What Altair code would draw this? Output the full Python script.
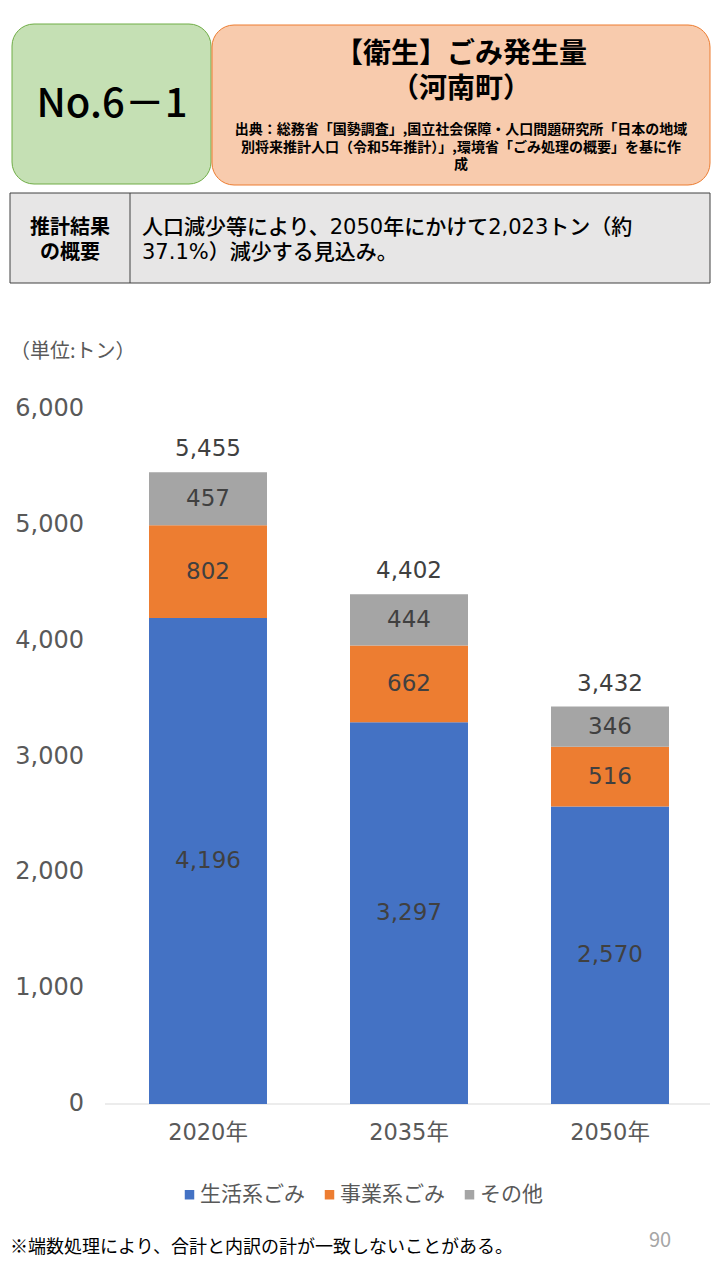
import altair as alt
import pandas as pd

# ---------------- data ----------------
years = ["2020年", "2035年", "2050年"]
categories = ["生活系ごみ", "事業系ごみ", "その他"]
household = [4196, 3297, 2570]
business = [802, 662, 516]
other = [457, 444, 346]
totals = [5455, 4402, 3432]
y_ticks = [0, 1000, 2000, 3000, 4000, 5000, 6000]
colors = ["#4472C4", "#ED7D31", "#A5A5A5"]

rows = []
for i, yr in enumerate(years):
    for j, (c, vals) in enumerate(zip(categories, [household, business, other])):
        rows.append({"year": yr, "cat": c, "value": vals[i], "order": j})
df = pd.DataFrame(rows)
tot_df = pd.DataFrame({"year": years, "total": totals})
tick_df = pd.DataFrame({"tick": y_ticks})
one = pd.DataFrame({"a": [0]})

# ---------------- layout ----------------
FONT = "Noto Sans CJK JP"
NUMFONT = "DejaVu Sans, Noto Sans CJK JP"
W, H = 704, 1264
BASE = 1096.0      # pixel row of value 0
PX = 0.1158        # pixels per ton
ydom = [(BASE - H) / PX, BASE / PX]
yscale = alt.Scale(domain=ydom, nice=False, zero=False)
xscale = alt.Scale(domain=years, range=[99.5, 702.5], paddingInner=0.413, paddingOuter=0.2065)

X = alt.X("year:N", scale=xscale, axis=None)

bars = alt.Chart(df).mark_bar().encode(
    x=X,
    y=alt.Y("value:Q", scale=yscale, axis=None, stack="zero"),
    color=alt.Color(
        "cat:N",
        scale=alt.Scale(domain=categories, range=colors),
        sort=categories,
        legend=alt.Legend(
            orient="none", legendX=171, legendY=1176, direction="horizontal",
            title=None, symbolType="square", symbolSize=90, symbolStrokeWidth=0,
            labelFontSize=21, labelColor="#595959", labelFont=FONT,
            columnPadding=14, labelOffset=0,
        ),
    ),
    order=alt.Order("order:Q", sort="ascending"),
)

seg_text = alt.Chart(df).transform_stack(
    stack="value", groupby=["year"], as_=["v0", "v1"],
    sort=[alt.SortField("order", "ascending")],
).transform_calculate(mid="(datum.v0 + datum.v1) / 2").mark_text(
    fontSize=23, color="#404040", font=NUMFONT, baseline="middle"
).encode(
    x=X,
    y=alt.Y("mid:Q", scale=yscale, axis=None),
    text=alt.Text("value:Q", format=","),
)

tot_text = alt.Chart(tot_df).mark_text(
    fontSize=23, color="#404040", font=NUMFONT, baseline="middle", dy=-23
).encode(
    x=X,
    y=alt.Y("total:Q", scale=yscale, axis=None),
    text=alt.Text("total:Q", format=","),
)

tick_text = alt.Chart(tick_df).mark_text(
    fontSize=24, color="#595959", font=NUMFONT, align="right", baseline="middle"
).encode(
    x=alt.value(76),
    y=alt.Y("tick:Q", scale=yscale, axis=None),
    text=alt.Text("tick:Q", format=","),
)

base_rule = alt.Chart(tick_df).transform_filter("datum.tick == 0").mark_rule(
    color="#D9D9D9", strokeWidth=1
).encode(
    x=alt.value(97), x2=alt.value(702),
    y=alt.Y("tick:Q", scale=yscale, axis=None),
)

year_text = alt.Chart(tot_df).mark_text(
    fontSize=22.5, color="#595959", font=NUMFONT, baseline="middle"
).encode(x=X, y=alt.value(1125), text="year:N")

# ---------------- header decoration ----------------
def box(x, x2, y, y2, fill, stroke, r=0, sw=1):
    return alt.Chart(one).mark_rect(
        fill=fill, stroke=stroke, strokeWidth=sw, cornerRadius=r
    ).encode(x=alt.value(x), x2=alt.value(x2), y=alt.value(y), y2=alt.value(y2))

def txt(s, x, y, size, color="#000000", weight="normal", align="center",
        font=FONT, lh=None):
    kw = {}
    if lh is not None:
        kw["lineHeight"] = lh
    return alt.Chart(one).mark_text(
        fontSize=size, color=color, fontWeight=weight, align=align,
        baseline="middle", font=font, **kw
    ).encode(x=alt.value(x), y=alt.value(y), text=alt.value(s))

deco = [
    box(4, 203, 16, 176, "#C5E0B4", "#70AD47", r=22),
    box(204, 702, 17, 177, "#F8CBAD", "#ED7D31", r=22),
    box(2, 702, 185, 275, "#E7E6E6", "#404040", sw=1),
    alt.Chart(one).mark_rule(color="#404040", strokeWidth=1).encode(
        x=alt.value(122), y=alt.value(185), y2=alt.value(275)),
    txt("No.6－1", 104, 97, 40, weight=500),
    txt(["【衛生】ごみ発生量", "（河南町）"], 453, 46.5, 28, weight="bold", lh=35.5),
    txt(["出典：総務省「国勢調査」,国立社会保障・人口問題研究所「日本の地域",
         "別将来推計人口（令和5年推計）」,環境省「ごみ処理の概要」を基に作",
         "成"], 453, 122, 14, weight="bold", lh=17.7),
    txt(["推計結果", "の概要"], 62, 220, 20, weight="bold", lh=25),
    txt(["人口減少等により、2050年にかけて2,023トン（約",
         "37.1%）減少する見込み。"], 134, 220, 21, weight=500, align="left",
        font=NUMFONT, lh=25),
    txt("（単位:トン）", 2, 344, 20, color="#595959", align="left"),
    txt("※端数処理により、合計と内訳の計が一致しないことがある。", 2, 1240, 18, align="left"),
    txt("90", 652, 1233, 20, color="#A6A6A6"),
]

chart = alt.layer(
    *deco, base_rule, bars, seg_text, tot_text, tick_text, year_text
).properties(
    width=W, height=H, padding=0, autosize=alt.AutoSizeParams(type="none")
).configure_view(stroke=None)

chart.save("out.html", embed_options={"renderer": "svg", "actions": False})
